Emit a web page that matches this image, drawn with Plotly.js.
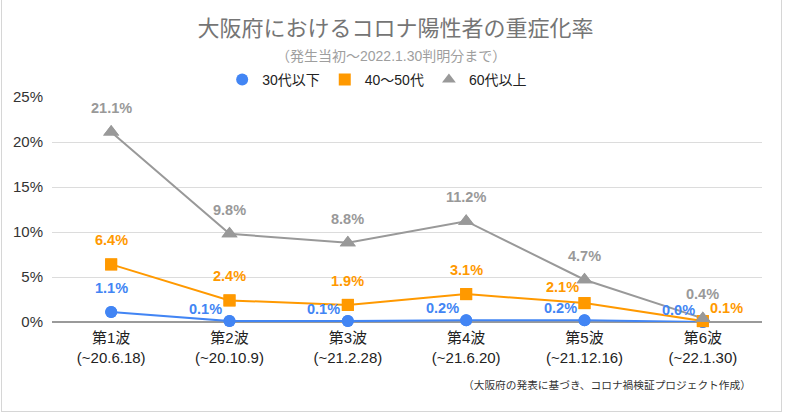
<!DOCTYPE html>
<html>
<head>
<meta charset="utf-8">
<script src="https://cdn.plot.ly/plotly-3.0.1.min.js"></script>
<style>
  html, body { margin: 0; padding: 0; background: #ffffff; }
  #wrap { position: relative; width: 791px; height: 416px; }
  #chart { position: absolute; left: 0; top: 0; width: 791px; height: 416px; }
  #frame { position: absolute; left: 1px; top: -1px; width: 781px; height: 413px;
           border: 1px solid #d6d6d6; pointer-events: none; box-sizing: border-box; }
</style>
</head>
<body>
<div id="wrap"><div id="chart"></div><div id="frame"></div></div>
<script>
// ---- data ----
const categories = ['第1波<br>(~20.6.18)', '第2波<br>(~20.10.9)', '第3波<br>(~21.2.28)',
                    '第4波<br>(~21.6.20)', '第5波<br>(~21.12.16)', '第6波<br>(~22.1.30)'];
const seriesNames = ['30代以下', '40〜50代', '60代以上'];
const under30 = [1.1, 0.1, 0.1, 0.2, 0.2, 0.0];
const age40to50 = [6.4, 2.4, 1.9, 3.1, 2.1, 0.1];
const over60 = [21.1, 9.8, 8.8, 11.2, 4.7, 0.4];
const yTicks = [0, 5, 10, 15, 20, 25];

const titleText = '大阪府におけるコロナ陽性者の重症化率';
const subtitleText = '（発生当初〜2022.1.30判明分まで）';
const sourceText = '（大阪府の発表に基づき、コロナ禍検証プロジェクト作成）';

// ---- styling ----
const colors = ['#4285f4', '#ff9900', '#999999'];
const symbols = ['circle', 'square', 'triangle-up'];
const sizes = [12, 12, 14];
const allSeries = [under30, age40to50, over60];
// label placement per point: 'A' above, 'L' left, 'R' right
const placement = [
  ['A', 'L', 'L', 'L', 'L', 'L'],
  ['A', 'A', 'A', 'A', 'L', 'R'],
  ['A', 'A', 'A', 'A', 'A', 'A']
];
const shifts = { A: [0, 24], L: [-24, 12], R: [24, 13] };
const shiftOverride = { '1-4': [-22, 16] };

const FONT = 'Liberation Sans, Arial, Noto Sans CJK JP, sans-serif';

const traces = [];
allSeries.forEach((vals, s) => {
  traces.push({
    x: categories, y: vals, type: 'scatter', mode: 'lines+markers',
    name: seriesNames[s], showlegend: false, cliponaxis: false,
    line: { color: colors[s], width: 2 },
    marker: { color: colors[s], symbol: symbols[s], size: sizes[s] },
    hoverinfo: 'skip'
  });
});
allSeries.forEach((vals, s) => {
  traces.push({
    x: categories, y: vals, type: 'scatter', mode: 'markers',
    name: seriesNames[s], showlegend: true, cliponaxis: false,
    marker: { color: colors[s], symbol: symbols[s], size: sizes[s] },
    hoverinfo: 'skip'
  });
});

const annotations = [];
allSeries.forEach((vals, s) => {
  vals.forEach((v, i) => {
    const key = s + '-' + i;
    const sh = shiftOverride[key] || shifts[placement[s][i]];
    annotations.push({
      x: categories[i], y: v, xref: 'x', yref: 'y',
      text: '<b>' + v.toFixed(1) + '%</b>', showarrow: false,
      xshift: sh[0], yshift: sh[1],
      font: { family: FONT, size: 14.5, color: colors[s] }
    });
  });
});
annotations.push({
  xref: 'paper', yref: 'paper', x: 0.477, y: 1.182, yanchor: 'middle',
  text: subtitleText, showarrow: false,
  font: { family: FONT, size: 14, color: '#9e9e9e' }
});
annotations.push({
  xref: 'paper', yref: 'paper', x: 0.987, xanchor: 'right', y: -0.28, yanchor: 'middle',
  text: sourceText, showarrow: false,
  font: { family: FONT, size: 10.7, color: '#333333' }
});

const layout = {
  width: 791, height: 416,
  margin: { l: 52, r: 29, t: 97, b: 94 },
  paper_bgcolor: '#ffffff', plot_bgcolor: '#ffffff',
  font: { family: FONT, color: '#222222' },
  title: {
    text: titleText, x: 0.5, xanchor: 'center', y: 1 - 28 / 416, yanchor: 'middle',
    yref: 'container', font: { family: FONT, size: 22, color: '#757575' }
  },
  showlegend: true,
  legend: {
    orientation: 'h', x: 0.458, xanchor: 'center', y: 1.0756, yanchor: 'middle',
    font: { family: FONT, size: 14, color: '#222222' }, itemsizing: 'constant',
    bgcolor: 'rgba(0,0,0,0)'
  },
  xaxis: {
    type: 'category', range: [-0.5, 5.5], showgrid: false, zeroline: false, showline: false,
    ticks: '', ticklabelstandoff: 5, tickfont: { family: FONT, size: 15, color: '#222222' }
  },
  yaxis: {
    range: [0, 25], tickvals: yTicks, ticktext: yTicks.map(t => t + '%'),
    showgrid: true, gridcolor: '#dcdcdc', gridwidth: 1,
    zeroline: true, zerolinecolor: '#9a9a9a', zerolinewidth: 2,
    showline: false, ticks: '', ticklabelstandoff: 8,
    tickfont: { family: FONT, size: 15, color: '#333333' }
  },
  annotations: annotations
};

Plotly.newPlot('chart', traces, layout, { displayModeBar: false, staticPlot: true });
</script>
</body>
</html>
